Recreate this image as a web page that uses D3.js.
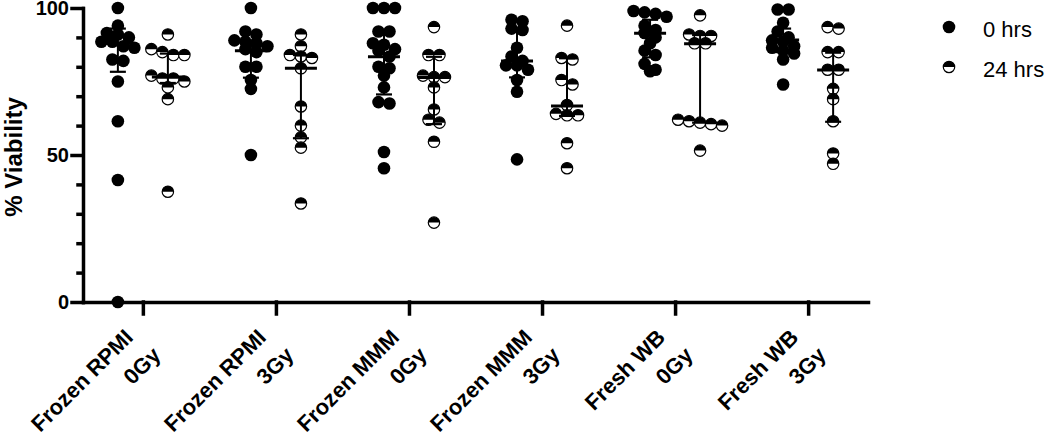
<!DOCTYPE html>
<html>
<head>
<meta charset="utf-8">
<script src="https://cdn.jsdelivr.net/npm/d3@7"></script>
<style>
  body { margin: 0; background: #fff; }
  text { font-family: Arial, "Liberation Sans", sans-serif; fill: #000; }
</style>
</head>
<body>
<svg id="chart" width="1050" height="434"></svg>
<script>
// categories (two-line tick labels)
var conditions = ["Frozen RPMI", "Frozen RPMI", "Frozen MMM", "Frozen MMM", "Fresh WB", "Fresh WB"];
var doses = ["0Gy", "3Gy", "0Gy", "3Gy", "0Gy", "3Gy"];
var series = ["0 hrs", "24 hrs"];

// % viability, one list per category
var viability0h = [
  [100, 94, 91.5, 91, 90, 88.5, 88.5, 87, 86.5, 82.5, 82, 75, 61.5, 41.5, 0],
  [100, 92, 91, 89, 88.5, 88, 87, 86, 85, 80, 80, 75.5, 72.5, 50],
  [100, 100, 100, 92, 92, 88, 87.5, 86, 85.5, 83.5, 80, 79.5, 77, 73, 68, 67.5, 51, 45.5],
  [96, 95.5, 93, 92.5, 86.5, 83.5, 82, 80.5, 80.5, 79, 75.5, 71.5, 48.5],
  [99, 98.5, 98, 97, 94, 92.5, 91.5, 90, 88, 85.5, 84, 81, 79, 78.5],
  [99.5, 99.5, 95, 92, 90, 89, 88.5, 87, 86.5, 85.5, 84.5, 82.5, 74]
];
var viability24h = [
  [91, 86, 85, 84, 84, 77, 76, 76, 75, 73, 69, 37.5],
  [91, 87, 84, 83.5, 83, 79.5, 66.5, 60, 56, 52.5, 33.5],
  [93.5, 84, 84, 77, 76.5, 76.5, 73, 65.5, 62, 61, 54.5, 27],
  [94, 83, 82.5, 75.5, 74, 67, 64, 63.5, 63.5, 54, 45.5],
  [97.5, 91, 90.5, 90.5, 88, 88, 62, 61.5, 61, 60.5, 60, 51.5],
  [93.5, 93, 85, 85, 79, 79, 72.5, 69, 61.5, 50.5, 47]
];

// median with interquartile range, as drawn
var median0h = [88, 85.5, 83.4, 82, 91.4, 89.1];
var q1_0h    = [78.3, 76.3, 70.6, 76.4, 83.2, 85];
var q3_0h    = [93, 89, 92, 92, 96, 93];
var median24h = [76.5, 79.5, 76.4, 66.7, 87.8, 78.9];
var q1_24h    = [74.5, 55.7, 60.5, 63.3, 61, 61.3];
var q3_24h    = [84.5, 84, 83.4, 82.9, 90.8, 84.8];

var svg = d3.select("#chart");

var y = d3.scaleLinear().domain([0, 100]).range([302, 8]);
var x = d3.scalePoint().domain(d3.range(conditions.length)).range([83, 868]).padding(0.45);
var dx = d3.scalePoint().domain(series).range([-25, 25]);

// axes
var yMajor = svg.append("g").attr("transform", "translate(83,0)")
    .call(d3.axisLeft(y).tickValues([0, 50, 100]).tickSize(11).tickSizeOuter(0).tickPadding(3));
var yMinor = svg.append("g").attr("transform", "translate(83,0)")
    .call(d3.axisLeft(y).tickValues(d3.range(10, 100, 10).filter((v) => v % 50)).tickSize(5)
          .tickSizeOuter(0).tickFormat(""));
yMinor.select(".domain").remove();
yMajor.selectAll("text").style("font-size", "20px").style("font-weight", "bold");

var xAxis = svg.append("g").attr("transform", "translate(0,302)")
    .call(d3.axisBottom(x).tickSize(12).tickSizeOuter(0).tickFormat(""));

svg.selectAll(".domain, .tick line")
    .attr("stroke", "#000").attr("stroke-width", 3.5).attr("stroke-linecap", "square");

// rotated two-line category labels
var labels = svg.append("g").selectAll("g").data(d3.range(conditions.length))
    .enter().append("g")
    .attr("transform", (i) => "translate(" + x(i) + ",302) rotate(-45)")
    .style("font-size", "22px").style("font-weight", "bold").attr("text-anchor", "end");
labels.append("text").attr("x", -32).attr("y", 20).text((i) => conditions[i]);
labels.append("text").attr("x", -25).attr("y", 52).text((i) => doses[i]);

svg.append("text")
    .attr("transform", "translate(22,157) rotate(-90)")
    .attr("text-anchor", "middle")
    .style("font-size", "24px").style("font-weight", "bold")
    .text("% Viability");

// spread points that sit at nearly the same height into centred rows
var rowGap = 7, colGap = 11;
function spread(values, cx) {
    var sorted = values.slice().sort((a, b) => b - a);
    var rows = [];
    sorted.forEach(function (v) {
        var row = rows[rows.length - 1];
        if (row && y(v) - y(row[0]) < rowGap) row.push(v);
        else rows.push([v]);
    });
    var pts = [];
    rows.forEach(function (row) {
        row.forEach(function (v, k) {
            pts.push({ v: v, x: cx + (k - (row.length - 1) / 2) * colGap });
        });
    });
    return pts;
}

var r = 6.3;
var topHalf = "M" + (-r + 0.6) + ",0A" + (r - 0.6) + "," + (r - 0.6) + " 0 0 1 " + (r - 0.6) + ",0Z";

function drawMarker(g, s) {
    if (s == series[0]) {
        g.append("circle").attr("r", r).attr("fill", "#000");
    } else {
        g.append("circle").attr("r", r - 0.6).attr("fill", "#fff")
            .attr("stroke", "#000").attr("stroke-width", 1.2);
        g.append("path").attr("d", topHalf).attr("fill", "#000");
    }
}

var allValues = [viability0h, viability24h];
var medians = [median0h, median24h], q1s = [q1_0h, q1_24h], q3s = [q3_0h, q3_24h];

var plot = svg.append("g");
series.forEach(function (s, si) {
    allValues[si].forEach(function (vals, gi) {
        var cx = x(gi) + dx(s);
        spread(vals, cx).forEach(function (p) {
            var m = plot.append("g").attr("transform", "translate(" + p.x + "," + y(p.v) + ")");
            drawMarker(m, s);
        });
    });
});

// median and IQR bars on top
series.forEach(function (s, si) {
    d3.range(conditions.length).forEach(function (gi) {
        var cx = x(gi) + dx(s);
        var bars = plot.append("g").attr("stroke", "#000");
        bars.append("line").attr("x1", cx).attr("x2", cx)
            .attr("y1", y(q1s[si][gi])).attr("y2", y(q3s[si][gi])).attr("stroke-width", 2);
        [q1s[si][gi], q3s[si][gi]].forEach(function (q) {
            bars.append("line").attr("x1", cx - 8).attr("x2", cx + 8)
                .attr("y1", y(q)).attr("y2", y(q)).attr("stroke-width", 2.2);
        });
        bars.append("line").attr("x1", cx - 16).attr("x2", cx + 16)
            .attr("y1", y(medians[si][gi])).attr("y2", y(medians[si][gi])).attr("stroke-width", 3);
    });
});

// legend
var legend = svg.append("g").selectAll("g").data(series).enter().append("g")
    .attr("transform", (d, i) => "translate(949," + (27 + i * 40) + ")");
legend.each(function (d) { drawMarker(d3.select(this), d); });
legend.append("text").attr("x", 34).attr("y", 9.5)
    .style("font-size", "22px").text((d) => d);
</script>
</body>
</html>
